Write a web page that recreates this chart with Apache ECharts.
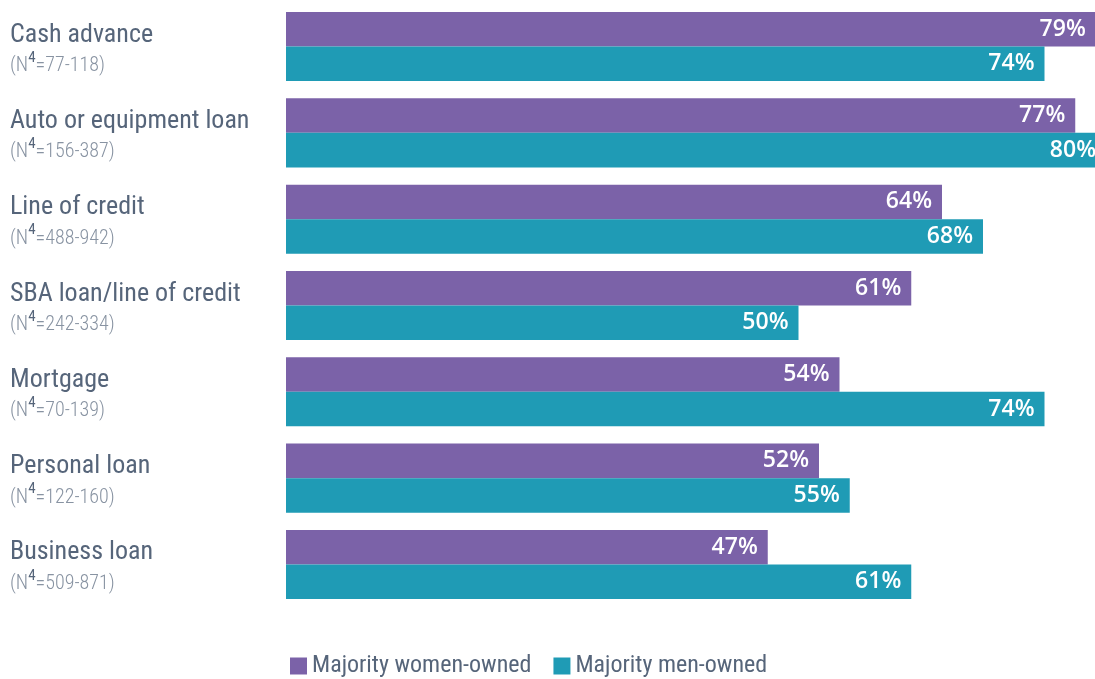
<!DOCTYPE html>
<html><head><meta charset="utf-8">
<script src="https://cdn.jsdelivr.net/npm/echarts@6/dist/echarts.min.js"></script>
<style>html,body{margin:0;padding:0;background:#fff}#c{width:1095px;height:679px}</style>
</head><body><div id="c"></div>
<script>
const categories = ["Cash advance","Auto or equipment loan","Line of credit","SBA loan/line of credit","Mortgage","Personal loan","Business loan"];
const sampleSizes = ["77-118","156-387","488-942","242-334","70-139","122-160","509-871"];
const womenOwned = [79,77,64,61,54,52,47];
const menOwned = [74,80,68,50,74,55,61];
const seriesNames = ["Majority women-owned","Majority men-owned"];

const FONT = '"Roboto Condensed","Liberation Sans Narrow","DejaVu Sans Condensed",Roboto,sans-serif';
const chart = echarts.init(document.getElementById('c'));
const labelCfg = {show:true, position:'insideRight', distance:10, color:'#fff', fontSize:23, fontFamily:'"Open Sans","Noto Sans",sans-serif', fontWeight:600, formatter:p=>p.value+'%'};
chart.setOption({
  animation:false,
  grid:{left:286, width:820, top:3.4, bottom:71.4, outerBoundsMode:'none', containLabel:false},
  xAxis:{type:'value', min:0, max:80, show:false},
  yAxis:{type:'category', inverse:true, data:categories,
    axisLine:{show:false}, axisTick:{show:false},
    axisLabel:{align:'left', margin:276, padding:[8,0,0,0],
      formatter:(v,i)=>'{a|'+v+'}\n{b|(N}{s|4}{b|='+sampleSizes[i]+')}',
      rich:{
        a:{fontSize:26, color:'#56657A', fontFamily:FONT, lineHeight:31},
        b:{fontSize:20, color:'#8893A2', fontFamily:FONT, fontWeight:300, lineHeight:31},
        s:{fontSize:15, color:'#56657A', fontFamily:FONT, verticalAlign:'top', lineHeight:31, padding:[0,0,10,0]}
      }}},
  legend:{left:285, top:649, itemWidth:17, itemHeight:17, itemGap:22, icon:'rect',
    textStyle:{fontSize:24, color:'#56657A', fontFamily:FONT}, data:seriesNames},
  series:[
    {name:seriesNames[0], type:'bar', data:womenOwned, barGap:'0%', barCategoryGap:'20%', itemStyle:{color:'#7B62A8'}, label:labelCfg},
    {name:seriesNames[1], type:'bar', data:menOwned, barGap:'0%', barCategoryGap:'20%', itemStyle:{color:'#1F9BB5'}, label:labelCfg}
  ]
});
</script></body></html>
